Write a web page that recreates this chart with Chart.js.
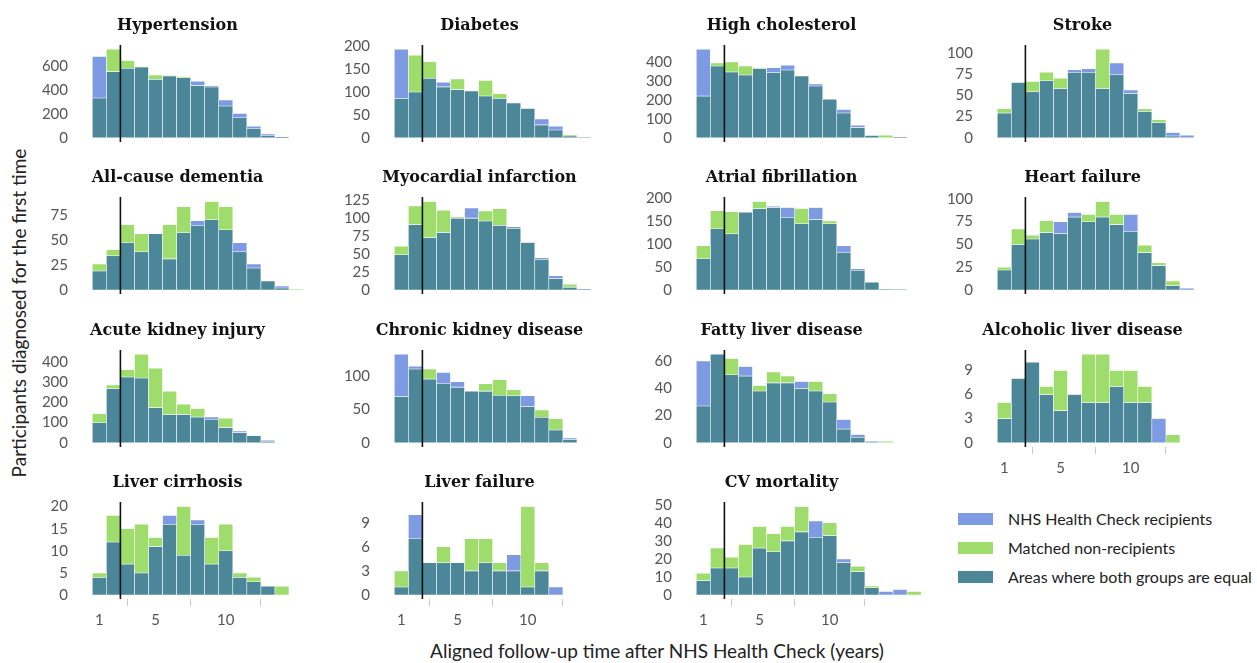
<!DOCTYPE html>
<html>
<head>
<meta charset="utf-8">
<script src="https://cdn.jsdelivr.net/npm/chart.js@4.4.0/dist/chart.umd.min.js"></script>
<style>
    body { margin: 0; background: #fff; }
    #page { position: relative; width: 1257px; height: 663px; overflow: hidden; font-family: Lato, sans-serif; }
    #page canvas { position: absolute; }
    .axis-title { position: absolute; font-size: 19px; color: #222; white-space: nowrap; line-height: 22px; }
    .legend-row { position: absolute; left: 958px; height: 20px; font-size: 16px; color: #222; white-space: nowrap; }
    .legend-row span { position: absolute; left: 0; top: 4px; width: 35px; height: 12px; }
    .legend-row div { position: absolute; left: 50px; top: 0; line-height: 20px; }
</style>
</head>
<body>
<div id="page">
    <div class="axis-title" style="left: 407px; top: 640px; width: 500px; text-align: center;">Aligned follow-up time after NHS Health Check (years)</div>
    <div class="axis-title" style="left: -191px; top: 302px; width: 420px; text-align: center; transform: rotate(-90deg);">Participants diagnosed for the first time</div>
    <div class="legend-row" style="top: 509px;"><span style="background:#7e9ae3"></span><div>NHS Health Check recipients</div></div>
    <div class="legend-row" style="top: 538px;"><span style="background:#9edd6b"></span><div>Matched non-recipients</div></div>
    <div class="legend-row" style="top: 567px;"><span style="background:#4b8699"></span><div>Areas where both groups are equal</div></div>
</div>

<script>
// yearly bins (bin centre = aligned year)
const years = [1, 2, 3, 4, 5, 6, 7, 8, 9, 10, 11, 12, 13, 14, 15, 16];
const xTickYears = [1, 5, 10];
const alignYear = 2.5;

// recipients (blue) vs matched non-recipients (green), counts per year
const hypertensionRecip   = [685, 557, 585, 595, 492, 520, 506, 475, 433, 318, 205, 96, 31, 5];
const hypertensionMatched = [335, 745, 650, 597, 529, 522, 515, 439, 428, 267, 169, 76, 17, 1];
const hypertensionTicks   = [0, 200, 400, 600];

const diabetesRecip   = [193, 100, 130, 121, 105, 102, 91, 86, 76, 64, 41, 25, 4, 1];
const diabetesMatched = [86, 180, 166, 111, 128, 102, 125, 96, 76, 64, 28, 17, 6, 0];
const diabetesTicks   = [0, 50, 100, 150, 200];

const cholesterolRecip   = [465, 377, 346, 330, 363, 368, 381, 325, 282, 202, 149, 65, 12, 0, 3];
const cholesterolMatched = [219, 393, 398, 377, 365, 344, 356, 325, 272, 202, 130, 53, 12, 13, 0];
const cholesterolTicks   = [0, 100, 200, 300, 400];

const strokeRecip   = [29, 65, 54, 67, 58, 80, 81, 58, 88, 56, 31, 18, 6, 3];
const strokeMatched = [34, 65, 66, 77, 70, 77, 77, 104, 74, 52, 34, 21, 2, 0];
const strokeTicks   = [0, 25, 50, 75, 100];

const dementiaRecip   = [19, 34, 47, 38, 56, 31, 57, 69, 70, 60, 47, 26, 9, 4, 0];
const dementiaMatched = [26, 40, 65, 56, 56, 65, 83, 64, 88, 83, 38, 22, 9, 2, 1];
const dementiaTicks   = [0, 25, 50, 75];

const miRecip   = [49, 91, 73, 80, 100, 114, 96, 90, 88, 66, 45, 20, 4, 1];
const miMatched = [61, 117, 123, 111, 102, 100, 110, 113, 86, 66, 42, 16, 8, 0];
const miTicks   = [0, 25, 50, 75, 100, 125];

const afRecip   = [68, 133, 122, 169, 177, 182, 179, 144, 179, 144, 96, 46, 17, 2, 2];
const afMatched = [96, 172, 170, 169, 192, 179, 157, 177, 153, 150, 82, 43, 17, 2, 0];
const afTicks   = [0, 50, 100, 150, 200];

const hfRecip   = [22, 50, 56, 63, 75, 85, 75, 80, 72, 83, 41, 27, 5, 2];
const hfMatched = [25, 67, 60, 76, 62, 80, 83, 97, 83, 64, 49, 30, 10, 0];
const hfTicks   = [0, 25, 50, 75, 100];

const akiRecip   = [99, 269, 326, 321, 174, 140, 140, 127, 127, 76, 58, 35, 12];
const akiMatched = [144, 286, 362, 438, 369, 255, 190, 169, 116, 121, 50, 35, 7];
const akiTicks   = [0, 100, 200, 300, 400];

const ckdRecip   = [132, 114, 95, 105, 91, 77, 77, 71, 70, 70, 38, 19, 7];
const ckdMatched = [69, 110, 110, 88, 83, 77, 88, 94, 79, 54, 49, 36, 5];
const ckdTicks   = [0, 50, 100];

const fattyRecip   = [60, 65, 50, 56, 38, 44, 44, 45, 38, 30, 17, 6, 1, 0];
const fattyMatched = [27, 65, 62, 49, 42, 52, 49, 40, 45, 36, 10, 4, 0, 1];
const fattyTicks   = [0, 20, 40, 60];

const alcoholRecip   = [3, 8, 10, 6, 4, 6, 5, 5, 7, 5, 5, 3, 0];
const alcoholMatched = [5, 8, 10, 7, 9, 6, 11, 11, 9, 9, 7, 0, 1];
const alcoholTicks   = [0, 3, 6, 9];

const cirrhosisRecip   = [4, 12, 7, 5, 11, 18, 9, 17, 7, 10, 4, 3, 2, 0];
const cirrhosisMatched = [5, 18, 15, 16, 13, 16, 20, 16, 13, 16, 5, 4, 2, 2];
const cirrhosisTicks   = [0, 5, 10, 15, 20];

const liverFailRecip   = [1, 10, 4, 4, 4, 3, 4, 3, 5, 1, 3, 1];
const liverFailMatched = [3, 7, 4, 6, 4, 7, 7, 4, 3, 11, 4, 0];
const liverFailTicks   = [0, 3, 6, 9];

const cvRecip   = [8, 15, 15, 10, 26, 24, 30, 35, 41, 33, 20, 13, 4, 2, 3, 0];
const cvMatched = [12, 26, 21, 28, 38, 34, 38, 49, 32, 40, 18, 16, 5, 0, 0, 2];
const cvTicks   = [0, 10, 20, 30, 40, 50];

const panels = [
    { title: "Hypertension", recip: hypertensionRecip, matched: hypertensionMatched, ticks: hypertensionTicks },
    { title: "Diabetes", recip: diabetesRecip, matched: diabetesMatched, ticks: diabetesTicks },
    { title: "High cholesterol", recip: cholesterolRecip, matched: cholesterolMatched, ticks: cholesterolTicks },
    { title: "Stroke", recip: strokeRecip, matched: strokeMatched, ticks: strokeTicks },
    { title: "All-cause dementia", recip: dementiaRecip, matched: dementiaMatched, ticks: dementiaTicks },
    { title: "Myocardial infarction", recip: miRecip, matched: miMatched, ticks: miTicks },
    { title: "Atrial fibrillation", recip: afRecip, matched: afMatched, ticks: afTicks },
    { title: "Heart failure", recip: hfRecip, matched: hfMatched, ticks: hfTicks },
    { title: "Acute kidney injury", recip: akiRecip, matched: akiMatched, ticks: akiTicks },
    { title: "Chronic kidney disease", recip: ckdRecip, matched: ckdMatched, ticks: ckdTicks },
    { title: "Fatty liver disease", recip: fattyRecip, matched: fattyMatched, ticks: fattyTicks },
    { title: "Alcoholic liver disease", recip: alcoholRecip, matched: alcoholMatched, ticks: alcoholTicks },
    { title: "Liver cirrhosis", recip: cirrhosisRecip, matched: cirrhosisMatched, ticks: cirrhosisTicks },
    { title: "Liver failure", recip: liverFailRecip, matched: liverFailMatched, ticks: liverFailTicks },
    { title: "CV mortality", recip: cvRecip, matched: cvMatched, ticks: cvTicks }
];

const BLUE = "#7e9ae3";
const GREEN = "#9edd6b";
const TEAL = "#4b8699";

// layout (px)
const UNIT = 14.05;                       // px per year
const BAR_START = [92.3, 394.3, 696.3, 997.3];
const BASELINE = [137.7, 290, 442.7, 595];
const TALLEST = 88.4;                     // px height of the highest bar in every panel
const Y_AXIS_W = 55;
const TOP_BLOCK = 35;
const X_AXIS_H = 35;
const AREA_W = 248;
const AREA_H = 97;

const alignLinePlugin = {
    id: "alignLine",
    afterDatasetsDraw(chart) {
        const { ctx, chartArea } = chart;
        const px = chart.scales.x.getPixelForValue(alignYear);
        ctx.save();
        ctx.strokeStyle = "#111";
        ctx.lineWidth = 1.6;
        ctx.beginPath();
        ctx.moveTo(px, chartArea.top);
        ctx.lineTo(px, chartArea.bottom);
        ctx.stroke();
        ctx.restore();
    }
};

function buildPanel(p, i) {
    const row = Math.floor(i / 4);
    const col = i % 4;
    const showX = row === 3 || i === 11;

    const canvasLeft = Math.round(BAR_START[col] - 0.8 * UNIT - Y_AXIS_W);
    const areaLeft = canvasLeft + Y_AXIS_W;
    const xMin = 0.5 - (BAR_START[col] - areaLeft) / UNIT;
    const xMax = xMin + AREA_W / UNIT;

    const areaTop = Math.round(BASELINE[row] - TALLEST * 1.05);
    const canvasTop = areaTop - TOP_BLOCK;
    const peak = Math.max(...p.recip, ...p.matched);
    const pxPer = TALLEST / peak;
    const yMax = (BASELINE[row] - areaTop) / pxPer;
    const yMin = -(areaTop + AREA_H - BASELINE[row]) / pxPer;

    const canvas = document.createElement("canvas");
    const w = Y_AXIS_W + AREA_W + 4;
    const h = TOP_BLOCK + AREA_H + X_AXIS_H;
    canvas.width = w;
    canvas.height = h;
    canvas.style.width = w + "px";
    canvas.style.height = h + "px";
    canvas.style.left = canvasLeft + "px";
    canvas.style.top = canvasTop + "px";
    document.getElementById("page").appendChild(canvas);

    const both = [], onlyRecip = [], onlyMatched = [];
    p.recip.forEach((a, k) => {
        const b = p.matched[k];
        const x = years[k];
        const lo = Math.min(a, b);
        both.push({ x: x, y: lo > 0 ? [0, lo] : null });
        onlyRecip.push({ x: x, y: a > b ? [b, a] : null });
        onlyMatched.push({ x: x, y: b > a ? [a, b] : null });
    });

    new Chart(canvas.getContext("2d"), {
        type: "bar",
        data: {
            datasets: [
                { label: "NHS Health Check recipients", data: onlyRecip, backgroundColor: BLUE },
                { label: "Matched non-recipients", data: onlyMatched, backgroundColor: GREEN },
                { label: "Areas where both groups are equal", data: both, backgroundColor: TEAL }
            ]
        },
        options: {
            responsive: false,
            animation: false,
            devicePixelRatio: 1,
            layout: { padding: { left: 0, right: 4, top: 0, bottom: 0 } },
            datasets: {
                bar: {
                    grouped: false,
                    barPercentage: 1,
                    categoryPercentage: 1,
                    borderWidth: 0.6,
                    borderColor: "rgba(255,255,255,0.8)",
                    borderSkipped: false
                }
            },
            plugins: {
                legend: { display: false },
                tooltip: { enabled: false },
                title: {
                    display: true,
                    text: p.title,
                    color: "#111",
                    font: { family: "DejaVu Serif", weight: "bold", size: 16 },
                    padding: { top: 6, bottom: TOP_BLOCK - 6 - 19.2 }
                }
            },
            scales: {
                x: {
                    type: "linear",
                    min: xMin,
                    max: xMax,
                    offset: false,
                    border: { display: false },
                    grid: { display: showX, drawOnChartArea: false, drawTicks: showX, tickLength: 7, color: "#c8c8c8" },
                    ticks: { display: showX, autoSkip: false, color: "#555", font: { family: "Lato", size: 15 }, padding: 5 },
                    afterBuildTicks: s => { s.ticks = xTickYears.map(v => ({ value: v })); },
                    afterFit: s => { s.height = X_AXIS_H; }
                },
                y: {
                    min: yMin,
                    max: yMax,
                    border: { display: false },
                    grid: { display: false, drawTicks: false },
                    ticks: { autoSkip: false, color: "#555", font: { family: "Lato", size: 15 }, padding: 13 },
                    afterBuildTicks: s => { s.ticks = p.ticks.map(v => ({ value: v })); },
                    afterFit: s => { s.width = Y_AXIS_W; }
                }
            }
        },
        plugins: [alignLinePlugin]
    });
}

document.addEventListener("DOMContentLoaded", () => {
    panels.forEach(buildPanel);
});
</script>
</body>
</html>
